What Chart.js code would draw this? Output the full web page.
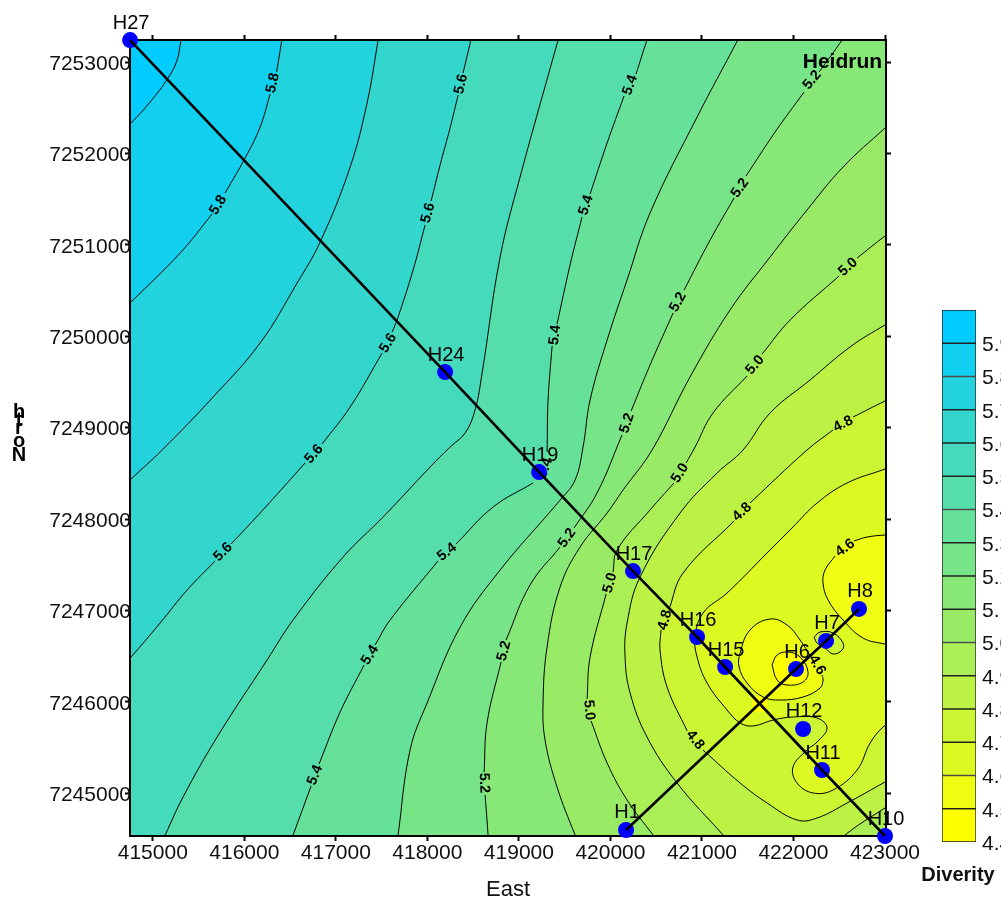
<!DOCTYPE html>
<html>
<head>
<meta charset="utf-8">
<title>Heidrun Diverity map</title>
<script src="https://cdn.jsdelivr.net/npm/chart.js@4"></script>
<style>
  html, body { margin: 0; padding: 0; background: #fff; overflow: hidden; }
  #wrap { position: relative; width: 1001px; height: 900px; }
  #mapChart { position: absolute; left: 0; top: 0; }
  #barChart { position: absolute; left: 900px; top: 290px; }
</style>
</head>
<body>
<div id="wrap">
  <canvas id="mapChart" width="1001" height="900"></canvas>
  <canvas id="barChart" width="101" height="610"></canvas>
</div>
<script>
// axis ticks
const eastTicks = [415000, 416000, 417000, 418000, 419000, 420000, 421000, 422000, 423000];
const northTicks = [7245000, 7246000, 7247000, 7248000, 7249000, 7250000, 7251000, 7252000, 7253000];

// colour scale, low to high
const bandLow = [4.4, 4.5, 4.6, 4.7, 4.8, 4.9, 5.0, 5.1, 5.2, 5.3, 5.4, 5.5, 5.6, 5.7, 5.8, 5.9];
const bandHigh = [4.5, 4.6, 4.7, 4.8, 4.9, 5.0, 5.1, 5.2, 5.3, 5.4, 5.5, 5.6, 5.7, 5.8, 5.9, 6.0];
const bandColors = ['#FFFF00', '#EEFD11', '#DDF922', '#CCF633', '#BBF244', '#AAEF55', '#99EB66', '#88E877',
  '#77E488', '#66E199', '#55DDAA', '#44DABB', '#33D6CC', '#22D3DD', '#11CFEE', '#00CCFF'];

// wells
const wellNames = ['H27', 'H24', 'H19', 'H17', 'H16', 'H15', 'H11', 'H10', 'H1', 'H6', 'H7', 'H8', 'H12'];
const wellEast = [414752, 418194, 419221, 420247, 420947, 421253, 422312, 423000, 420171, 422028, 422356, 422716, 422105];
const wellNorth = [7253240, 7249608, 7248514, 7247431, 7246709, 7246381, 7245254, 7244532, 7244598, 7246359, 7246666, 7247016, 7245703];
const transectA = ['H27', 'H24', 'H19', 'H17', 'H16', 'H15', 'H11', 'H10'];
const transectB = ['H1', 'H6', 'H7', 'H8'];

// contours as [east, north], null = gap left for a label
const c59 = [[415331,7253317],[415309,7253240],[415266,7253022],[415167,7252825],[414971,7252562],[414763,7252332],[414687,7252267]];
const c58 = [[416424,7253317],[416410,7253240],[416353,7252890],null,[416282,7252650],[416173,7252289],[416009,7251950],[415790,7251567],null,
  [415648,7251337],[415299,7250910],[414763,7250374],[414687,7250298]];
const c57 = [[417473,7253317],[417462,7253240],[417341,7252551],[417156,7251851],[416828,7251030],[416577,7250582],[416173,7249926],[415659,7249335],
  [415102,7248755],[414763,7248438],[414687,7248361]];
const c56 = [[418489,7253317],[418475,7253240],[418390,7252879],null,[418336,7252639],[418248,7252278],[418139,7251873],[418041,7251479],null,
  [417975,7251216],[417844,7250724],[417669,7250177],[417615,7250046],null,[417506,7249816],[417156,7249225],[416850,7248821],null,
  [416664,7248613],[416173,7248066],[415856,7247727],null,[415681,7247541],[415375,7247223],[415080,7246862],[414763,7246490],[414687,7246414]];
const c55 = [[419450,7253317],[419428,7253240],[419013,7251742],[418795,7250866],[418598,7249597],[418521,7249193],[418412,7248941],[418248,7248788],
  [418030,7248569],[417516,7248022],[417079,7247584],[416533,7246895],[416249,7246458],[415703,7245615],[415331,7244959],[415135,7244543],[415091,7244456]];
const c54 = [[420433,7253317],[420400,7253240],[420280,7252868],null,[420149,7252628],[419964,7252114],[419778,7251556],null,[419690,7251304],
  [419559,7250779],[419417,7250133],null,[419363,7249893],[419319,7249302],[419308,7248733],null,[419155,7248394],[418718,7248131],[418314,7247727],null,
  [418117,7247541],[417593,7246895],[417429,7246622],null,[417309,7246403],[417047,7245889],[416817,7245320],null,[416730,7245079],[416533,7244543],[416500,7244456]];
const c53 = [[421427,7253317],[421391,7253240],[420947,7252398],[420433,7251348],[420182,7250615],[419964,7249958],[419778,7249302],[419701,7248788],
  [419614,7248427],[419450,7248207],[418795,7247442],[418358,7246818],[417997,7245987],[417811,7245473],[417680,7244543],[417669,7244456]];
const c52 = [[422575,7253317],[422531,7253240],[422280,7252890],null,[422116,7252671],[421799,7252234],[421482,7251753],null,[421351,7251512],
  [421089,7251052],[420805,7250505],null,[420685,7250254],[420433,7249685],[420226,7249182],null,[420127,7248919],[419854,7248285],[419603,7247902],null,
  [419450,7247694],[419122,7247278],[418860,7246676],null,[418805,7246436],[418652,7245768],[418620,7245232],null,[418631,7244981],[418663,7244543],[418663,7244456]];
const c51 = [[423077,7252343],[423000,7252278],[422542,7251851],[422148,7251381],[421744,7250866],[421307,7250287],[420870,7249554],[420455,7248755],
  [420138,7248317],[419964,7248066],[419669,7247694],[419450,7247256],[419308,7246600],[419264,7245987],[419286,7245582],[419417,7245068],[419614,7244543],[419658,7244456]];
const c50 = [[423077,7251140],[423000,7251096],[422695,7250855],null,[422498,7250659],[421963,7250177],[421657,7249805],null,[421493,7249565],
  [421121,7249160],[420925,7248788],[420827,7248613],null,[420695,7248394],[420433,7248099],[420073,7247661],[420029,7247420],null,[419953,7247180],
  [419778,7246490],[419745,7246031],null,[419789,7245790],[419964,7245331],[420182,7244926],[420466,7244543],[420532,7244456]];
const c49 = [[423077,7250155],[423000,7250123],[422618,7249882],[422181,7249521],[421744,7249160],[421449,7248755],[421165,7248503],[420761,7248066],
  [420324,7247366],[420182,7246862],[420160,7246490],[420215,7246097],[420400,7245615],[420728,7245112],[421231,7244543],[421307,7244456]];
const c49corner = [[422531,7244456],[422564,7244543],[423000,7244839],[423077,7244882]];
const c48 = [[423077,7249324],[423000,7249291],[422651,7249116],null,[422432,7248974],[422148,7248755],[421525,7248175],null,[421351,7247978],
  [420794,7247409],[420641,7247015],null,[420553,7246786],[420542,7246567],[420619,7246162],[420838,7245681],null,[421012,7245473],[421417,7245112],
  [421712,7244893],[422040,7244707],[422258,7244729],[422586,7244893],[423000,7245123],[423077,7245167]];
const c47 = [[423077,7248580],[423000,7248547],[422585,7248394],[422258,7248175],[421995,7247913],[421711,7247628],[421274,7247190],[421012,7246972],
  [420925,7246709],[420947,7246490],[421056,7246206],[421274,7245911],[421417,7245769],[421559,7245736],[421777,7245801],[421995,7245834],[422258,7245823],
  [422367,7245714],[422258,7245560],[422148,7245473],[421995,7245287],[422039,7245112],[422214,7245003],[422433,7245036],[422695,7245254],[422837,7245549],
  [422979,7245725],[423077,7245779]];
const c47island = [[422225,7246709],[422291,7246764],[422433,7246753],[422542,7246643],[422531,7246567],[422433,7246523],[422345,7246589],[422258,7246643],[422225,7246709]];
const c46right = [[423077,7247825],[423000,7247825],[422804,7247803],[422662,7247760],null,[422455,7247595],[422345,7247442],[422323,7247300],[422378,7247114],
  [422542,7246895],[422760,7246698],[423000,7246632],[423077,7246622]];
const c46loop = [[422312,7246293],[422323,7246239],[422291,7246151],[422105,7246053],[421854,7246020],[421668,7246053],[421493,7246206],[421406,7246381],
  [421417,7246534],[421525,7246786],[421744,7246906],[421930,7246841],[422072,7246676],[422192,7246490]];
const c45loop = [[421766,7246403],[421821,7246512],[421941,7246545],[422072,7246490],[422159,7246326],[422105,7246217],[421930,7246184],[421821,7246239],[421766,7246403]];
const yellowPatch = [[421548,7246064],[421712,7246064],[421712,7245889],[421548,7245889]];

// contour labels
const labelTexts = ['5.8','5.8','5.6','5.6','5.6','5.6','5.6','5.4','5.4','5.4','5.4','5.4','5.4','5.4',
  '5.2','5.2','5.2','5.2','5.2','5.2','5.2','5.0','5.0','5.0','5.0','5.0','4.8','4.8','4.8','4.8','4.6','4.6'];
const labelEast = [416311,415714,418368,418008,417571,416762,415768,420215,419734,419395,419286,418215,417374,416773,
  422203,421417,420739,420182,419526,418838,418620,422596,421580,420761,419996,419767,422542,421438,420597,420925,422564,422258];
const labelNorth = [7252770,7251435,7252759,7251348,7249926,7248711,7247639,7252748,7251435,7250013,7248558,7247639,7246512,7245199,
  7252803,7251621,7250374,7249050,7247792,7246556,7245112,7250757,7249685,7248503,7247300,7245910,7249039,7248077,7246895,7245582,7247683,7246403];
const labelAngles = [-77,-58,-78,-75,-58,-48,-45,-70,-72,-83,-70,-38,-58,-68,-50,-55,-62,-72,-55,-75,88,-42,-50,-58,-75,85,-27,-42,-75,52,-35,60];

// points well outside the frame, used to close the fill areas
const farTL = [414300, 7253700], farTR = [423500, 7253700], farBL = [414300, 7244000], farBR = [423500, 7244000];

const FONT = '"Liberation Sans", Arial, sans-serif';
const SMOOTH = 0.4;
const bandColor = low => bandColors[bandLow.indexOf(low)];
const toXY = pts => pts.map(p => p ? { x: p[0], y: p[1] } : { x: null, y: null });
const solid = pts => pts.filter(p => p);

function area(pts, color, tension) {
  return { data: toXY(solid(pts)), showLine: true, fill: 'shape', backgroundColor: color, borderWidth: 0,
    pointRadius: 0, tension: tension === undefined ? SMOOTH : tension, clip: 0 };
}
function contour(pts) {
  return { data: toXY(pts), showLine: true, fill: false, borderColor: '#000', borderWidth: 1,
    pointRadius: 0, tension: SMOOTH, clip: 0 };
}
function transect(names) {
  const pts = names.map(n => [wellEast[wellNames.indexOf(n)], wellNorth[wellNames.indexOf(n)]]);
  return { data: toXY(pts), showLine: true, fill: false, borderColor: '#000', borderWidth: 2.6,
    pointRadius: 0, tension: 0, clip: false };
}

// painted from the back: every area covers what lies below its level
const painted = [
  area([farTL, farTR, farBR, farBL], bandColor(5.9), 0),
  area([...c59, farBL, farBR, farTR], bandColor(5.8)),
  area([...c58, farBL, farBR, farTR], bandColor(5.7)),
  area([...c57, farBL, farBR, farTR], bandColor(5.6)),
  area([...c56, farBL, farBR, farTR], bandColor(5.5)),
  area([...c55, farBR, farTR], bandColor(5.4)),
  area([...c54, farBR, farTR], bandColor(5.3)),
  area([...c53, farBR, farTR], bandColor(5.2)),
  area([...c52, farBR, farTR], bandColor(5.1)),
  area([...c51, farBR], bandColor(5.0)),
  area([...c50, farBR], bandColor(4.9)),
  area([...c49, ...c49corner], bandColor(4.8)),
  area(c48, bandColor(4.7)),
  area(c47, bandColor(4.6)),
  area(c47island, bandColor(4.7)),
  area(c46right, bandColor(4.5)),
  area(c46loop, bandColor(4.5)),
  area(c45loop, bandColor(4.4)),
  area(yellowPatch, bandColor(4.4), 0)
];
[c59, c58, c57, c56, c55, c54, c53, c52, c51, c50, c49, c49corner, c48, c47, c47island, c46right, c46loop, c45loop]
  .forEach(c => painted.push(contour(c)));
painted.push({ id: 'wells', data: toXY(wellNames.map((n, i) => [wellEast[i], wellNorth[i]])), showLine: false,
  pointRadius: 8, pointBackgroundColor: '#0000FF', pointBorderWidth: 0, clip: false });
painted.push(transect(transectA), transect(transectB));

// chart.js draws the first dataset last
const datasets = painted.slice().reverse();

const mapText = {
  id: 'mapText',
  beforeDatasetDraw(chart, args) {
    if (chart.data.datasets[args.index].id !== 'wells') return;
    const { ctx, scales } = chart;
    ctx.save();
    ctx.fillStyle = '#000';
    ctx.font = 'bold 14.5px ' + FONT;
    ctx.textAlign = 'center';
    ctx.textBaseline = 'middle';
    labelTexts.forEach((t, i) => {
      ctx.save();
      ctx.translate(scales.x.getPixelForValue(labelEast[i]), scales.y.getPixelForValue(labelNorth[i]));
      ctx.rotate(labelAngles[i] * Math.PI / 180);
      ctx.fillText(t, 0, 0);
      ctx.restore();
    });
    ctx.restore();
  },
  afterDatasetsDraw(chart) {
    const { ctx, scales } = chart;
    ctx.save();
    ctx.fillStyle = '#000';
    ctx.textBaseline = 'middle';
    ctx.textAlign = 'center';
    ctx.font = '20px ' + FONT;
    wellNames.forEach((n, i) => {
      ctx.fillText(n, scales.x.getPixelForValue(wellEast[i]) + 1, scales.y.getPixelForValue(wellNorth[i]) - 17);
    });
    ctx.font = 'bold 21px ' + FONT;
    ctx.textAlign = 'right';
    ctx.fillText('Heidrun', scales.x.getPixelForValue(422968), scales.y.getPixelForValue(7253000));
    // y title: upright letters piled on each other
    ctx.font = 'bold 20px ' + FONT;
    ctx.textAlign = 'center';
    ctx.textBaseline = 'alphabetic';
    [['N', 461], ['o', 447], ['r', 434], ['t', 426], ['h', 418]].forEach(l => ctx.fillText(l[0], 19, l[1]));
    ctx.restore();
  }
};

const barTitle = {
  id: 'barTitle',
  afterDraw(chart) {
    const { ctx } = chart;
    ctx.save();
    ctx.fillStyle = '#111';
    ctx.font = 'bold 20px ' + FONT;
    ctx.textAlign = 'center';
    ctx.textBaseline = 'middle';
    ctx.fillText('Diverity', 58, 585);
    ctx.restore();
  }
};

const frame = { color: '#000', width: 4 };
const marks = { drawOnChartArea: false, drawTicks: true, tickLength: 6, tickWidth: 2, tickColor: '#000' };
const xRange = { min: 414762, max: 423000 };
const yRange = { min: 7244543, max: 7253230 };
const setEast = s => { s.ticks = eastTicks.map(v => ({ value: v })); };
const setNorth = s => { s.ticks = northTicks.map(v => ({ value: v })); };

new Chart(document.getElementById('mapChart'), {
  type: 'scatter',
  data: { datasets: datasets },
  plugins: [mapText],
  options: {
    responsive: false,
    animation: false,
    layout: { padding: { left: 0, right: 110, top: 35, bottom: 0 } },
    plugins: { legend: { display: false }, tooltip: { enabled: false } },
    scales: {
      x: {
        type: 'linear', position: 'bottom', ...xRange, border: frame, grid: marks,
        afterBuildTicks: setEast,
        afterFit: s => { s.height = 65; },
        ticks: { color: '#111', font: { size: 21, family: FONT }, padding: 0, maxRotation: 0, autoSkip: false, callback: v => String(v) },
        title: { display: true, text: 'East', color: '#111', font: { size: 22, family: FONT }, padding: { top: 0, bottom: -3 } }
      },
      y: {
        type: 'linear', position: 'left', ...yRange, border: frame, grid: marks,
        afterBuildTicks: setNorth,
        afterFit: s => { s.width = 131; },
        ticks: { color: '#111', font: { size: 21, family: FONT }, padding: -6, labelOffset: 2, autoSkip: false, callback: v => String(v) }
      },
      xTop: {
        type: 'linear', axis: 'x', position: 'top', ...xRange, border: frame, grid: marks,
        afterBuildTicks: setEast,
        afterFit: s => { s.height = 6; },
        ticks: { display: false }
      },
      yRight: {
        type: 'linear', axis: 'y', position: 'right', ...yRange, border: frame, grid: marks,
        afterBuildTicks: setNorth,
        afterFit: s => { s.width = 6; },
        ticks: { display: false }
      }
    }
  }
});

// colour scale on its own small chart
new Chart(document.getElementById('barChart'), {
  type: 'bar',
  data: {
    labels: ['Diverity'],
    datasets: bandLow.map((low, i) => ({
      data: [[low, bandHigh[i]]],
      backgroundColor: bandColors[i],
      borderColor: '#222',
      borderWidth: 1,
      borderSkipped: false,
      barPercentage: 1,
      categoryPercentage: 1,
      grouped: false
    }))
  },
  plugins: [barTitle],
  options: {
    responsive: false,
    animation: false,
    layout: { padding: { left: 42, right: 0, top: 20, bottom: 58 } },
    plugins: { legend: { display: false }, tooltip: { enabled: false } },
    scales: {
      x: { display: false },
      y: {
        position: 'right', min: 4.4, max: 6,
        grid: { display: false, drawTicks: false }, border: { display: false },
        afterBuildTicks: s => { s.ticks = bandLow.map(v => ({ value: v })); },
        afterFit: s => { s.width = 25; },
        ticks: { color: '#111', font: { size: 21, family: FONT }, padding: 6, labelOffset: 2, autoSkip: false, callback: v => v.toFixed(1) }
      }
    }
  }
});
</script>
</body>
</html>
